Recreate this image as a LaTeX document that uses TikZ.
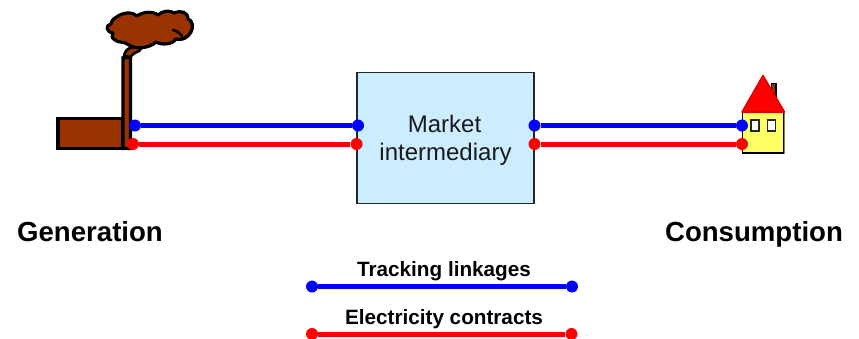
\documentclass[tikz,border=0pt]{standalone}
\usepackage{fontspec}
\setmainfont{Liberation Sans}
\definecolor{brownfill}{HTML}{993300}
\definecolor{boxblue}{HTML}{CCECFF}
\definecolor{houseyellow}{HTML}{FFFF66}
\definecolor{roofedge}{HTML}{DD0000}
\tikzset{
  bluedot/.style={circle,fill=blue,inner sep=0pt,minimum size=12pt},
  reddot/.style={circle,fill=red,inner sep=0pt,minimum size=12pt},
  blueline/.style={draw=blue,line width=5pt},
  redline/.style={draw=red,line width=5pt},
  factory/.style={draw=black,line width=3.4pt,fill=brownfill,line join=miter},
  biglabel/.style={font=\fontsize{27.6}{32}\selectfont\bfseries,anchor=base},
  legendlabel/.style={font=\fontsize{20.7}{24}\selectfont\bfseries,anchor=base},
}
\begin{document}
\begin{tikzpicture}[x=1pt,y=-1pt]
\useasboundingbox (0,0) rectangle (859,338);
\begin{scope}
\clip (0,0) rectangle (859,338);
% factory
\path[factory] (58,118.5) rectangle (123,148.5);
\path[factory] (123,148.5) -- (123,58) -- (130.5,57) -- (130.5,148.5) -- cycle;
\path[factory,line width=2.6pt] (124,56) .. controls (125,51) and (127,48) .. (134,47)
  .. controls (141,46) and (142,49) .. (139,51) .. controls (134,53) and (132,55) .. (130,57) -- cycle;
\path[factory,line width=3.2pt,line join=round]
  (118,16) .. controls (125,11.5) and (134,12.5) .. (137,16)
  .. controls (143,11.5) and (153,11) .. (158,15)
  .. controls (163,10.5) and (170,10) .. (174,13)
  .. controls (181,10) and (188,12) .. (188,19)
  .. controls (193,20) and (193.5,28) .. (191,32)
  .. controls (188,38) and (181,41) .. (176,39)
  .. controls (172,45) and (161,45) .. (156,42)
  .. controls (149,49) and (134,49) .. (129,45)
  .. controls (124,41) and (118,43) .. (115,40)
  .. controls (111,38) and (112,35) .. (113,33)
  .. controls (106,32) and (105,25) .. (111,24)
  .. controls (112,19) and (115,18) .. (118,16) -- cycle;
\draw[black,line width=2.6pt,line cap=round] (173,30) .. controls (177,31) and (180,33) .. (182,36);
% house
\filldraw[fill=brownfill,draw=black,line width=1.4pt] (771.5,83.5) rectangle (776,105);
\filldraw[fill=houseyellow,draw=black,line width=1.5pt] (742.5,112) rectangle (784,153);
\fill[fill=gray] (784,112) rectangle (785,153.5);
\filldraw[fill=red,draw=roofedge,line width=1.5pt,line join=round] (763,75.5) -- (784.5,112) -- (742,112) -- cycle;
\filldraw[fill=white,draw=black!85,line width=1.3pt] (751,120) rectangle (759,131);
\filldraw[fill=white,draw=black!85,line width=1.3pt] (767.5,120) rectangle (775.5,131);
% box
\node[draw=black!85,line width=1.1pt,fill=boxblue,inner sep=0pt,minimum width=177pt,minimum height=130.5pt] (box) at (445.5,138) {};
\node[font=\fontsize{24}{28}\selectfont,text=black!90,anchor=base] (boxlabel1) at (444.5,132) {Market};
\node[font=\fontsize{24}{28}\selectfont,text=black!90,anchor=base] (boxlabel2) at (445.5,160.5) {intermediary};
% dots
\node[bluedot] (g1) at (135,125.5) {};
\node[reddot] (g2) at (133,144) {};
\node[bluedot] (m1) at (358,125.5) {};
\node[reddot] (m2) at (356.5,144) {};
\node[bluedot] (m3) at (534.5,125.5) {};
\node[reddot] (m4) at (534.5,144) {};
\node[bluedot] (h1) at (742,125.5) {};
\node[reddot] (h2) at (742,144) {};
\draw[blueline] (g1) -- (m1);
\draw[redline] (g2) -- (m2);
\draw[blueline] (m3) -- (h1);
\draw[redline] (m4) -- (h2);
% labels
\node[biglabel] (gen) at (90,241) {Generation};
\node[biglabel] (con) at (754,241) {Consumption};
% legend
\node[legendlabel] (track) at (444,276) {Tracking linkages};
\node[legendlabel] (elec) at (444,324) {Electricity contracts};
\node[bluedot] (l1) at (312,286.5) {};
\node[bluedot] (l2) at (572,286.5) {};
\node[reddot] (l3) at (312,334) {};
\node[reddot] (l4) at (571.5,334) {};
\draw[blueline] (l1) -- (l2);
\draw[redline] (l3) -- (l4);
\end{scope}
\end{tikzpicture}
\end{document}
